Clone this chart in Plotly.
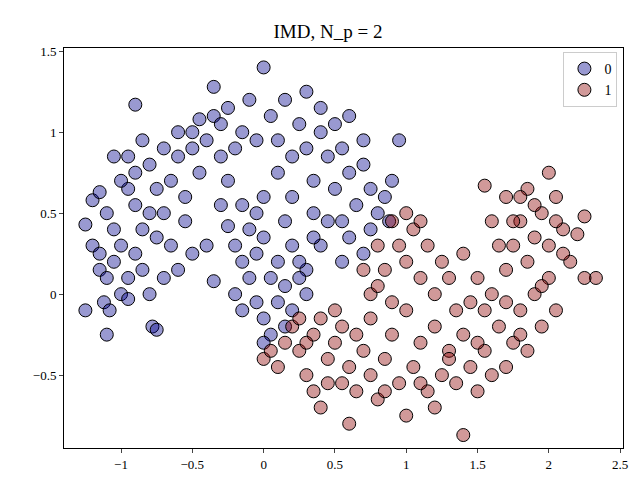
import plotly.graph_objects as go

# class 0 (blue)
x0 = [-1.25,-1.2,-1.15,-1.1,-1.05,-1.2,-1.15,-1.1,-1.05,-1.0,
      -1.25,-1.12,-1.08,-1.0,-0.95,-0.9,-0.85,-0.9,-0.95,-1.0,
      -1.05,-0.95,-0.9,-0.85,-0.8,-0.75,-0.8,-0.75,-0.85,-0.8,
      -0.9,-0.78,-0.75,-1.1,-0.7,-0.65,-0.7,-0.65,-0.7,-0.6,
      -0.6,-0.55,-0.55,-0.5,-0.45,-0.5,-0.45,-0.4,-0.35,-0.3,
      -0.35,-0.3,-0.25,-0.2,-0.25,-0.15,-0.1,-0.05,-0.15,-0.1,
      -0.3,-0.35,-0.25,-0.2,-0.15,-0.1,-0.05,0.0,-0.05,0.0,
      0.0,0.05,0.1,0.15,0.1,0.2,0.25,0.2,0.3,0.3,
      0.35,0.4,0.4,0.45,0.5,0.5,0.55,0.6,0.6,0.65,
      0.7,0.7,0.75,0.8,0.75,0.85,0.9,0.95,0.88,0.7,
      0.6,0.55,0.45,0.4,0.35,0.3,0.2,0.15,0.1,0.05,
      -0.05,0.0,0.05,0.1,0.15,0.2,0.25,0.3,0.15,0.0,
      -0.2,-0.15,0.25,0.35,-0.4,-0.6,-0.95,-1.15,-0.5,0.55]
y0 = [0.43,0.58,0.63,0.5,0.4,0.3,0.15,0.1,0.2,0.3,
      -0.1,-0.05,-0.1,0.0,0.1,0.25,0.4,0.55,0.65,0.7,
      0.85,0.85,0.75,0.95,0.8,0.65,0.5,0.35,0.15,0.0,
      1.17,-0.2,-0.22,-0.25,0.1,0.3,0.5,0.7,0.9,0.85,
      1.0,0.6,0.45,0.9,1.08,0.25,0.75,0.95,1.1,0.85,
      1.28,1.05,1.15,0.9,0.7,1.0,1.2,0.95,0.55,0.4,
      0.55,0.08,0.42,0.3,0.2,0.1,0.25,0.35,0.5,0.6,
      1.4,1.1,0.95,1.2,0.75,0.85,1.05,0.6,1.25,0.9,
      0.7,1.0,1.15,0.85,1.05,0.65,0.9,0.75,1.1,0.55,
      0.95,0.8,0.65,0.5,0.4,0.6,0.7,0.95,0.45,0.25,
      0.35,0.2,0.45,0.3,0.5,0.15,0.3,0.45,0.2,0.1,
      -0.05,-0.15,-0.25,-0.05,0.05,-0.1,0.1,0.0,-0.2,-0.3,
      0.0,-0.1,0.2,0.35,0.3,0.15,-0.03,0.25,1.0,0.45]

# class 1 (red)
x1 = [0.0,0.05,0.1,0.15,0.2,0.25,0.3,0.35,0.4,0.45,
      0.35,0.4,0.45,0.5,0.55,0.6,0.65,0.6,0.7,0.75,
      0.75,0.8,0.85,0.9,0.95,1.0,1.0,1.05,1.1,1.15,
      1.2,1.25,1.3,1.35,1.4,1.4,1.45,1.5,1.55,1.6,
      1.65,1.7,1.75,1.8,1.85,1.9,1.95,2.0,2.05,1.6,
      1.7,1.75,1.8,1.85,1.9,1.95,2.0,2.05,2.1,2.15,
      1.85,1.9,2.0,1.8,1.75,2.1,2.2,2.25,2.33,2.25,
      1.55,1.6,1.65,1.5,1.55,1.4,1.45,1.7,2.05,1.95,
      0.8,0.85,0.9,0.95,1.0,1.05,1.1,1.15,1.2,1.25,
      0.7,0.75,0.8,0.9,1.0,1.1,1.3,1.35,1.2,1.3,
      0.25,0.3,0.5,0.55,0.65,0.85,1.1,1.5,1.8,1.7]
y1 = [-0.4,-0.35,-0.45,-0.3,-0.2,-0.35,-0.5,-0.25,-0.15,-0.4,
      -0.6,-0.7,-0.55,-0.3,-0.2,-0.45,-0.6,-0.8,-0.35,-0.15,
      -0.5,-0.65,-0.4,-0.25,-0.55,-0.75,-0.1,-0.45,-0.3,-0.6,
      -0.7,-0.5,-0.35,-0.55,-0.87,-0.25,-0.45,-0.6,-0.35,-0.5,
      -0.2,-0.45,-0.3,-0.1,-0.35,0.0,-0.2,0.1,-0.1,0.0,
      0.15,0.3,0.45,0.2,0.35,0.5,0.3,0.6,0.4,0.2,
      0.65,0.55,0.75,0.6,0.45,0.25,0.37,0.48,0.1,0.1,
      0.67,0.45,0.3,0.1,-0.1,0.25,-0.05,0.6,0.45,0.05,
      0.3,0.15,0.45,0.3,0.2,0.4,0.1,0.3,0.0,0.2,
      0.15,0.0,0.05,-0.05,0.5,0.45,0.1,-0.1,-0.2,-0.4,
      -0.15,-0.3,-0.1,-0.55,-0.25,-0.6,-0.55,-0.3,-0.25,-0.05]

fig = go.Figure()
fig.add_trace(go.Scatter(x=x0, y=y0, mode="markers", name="0",
                         marker=dict(size=13, color="rgba(0,0,139,0.4)",
                                     line=dict(color="black", width=1))))
fig.add_trace(go.Scatter(x=x1, y=y1, mode="markers", name="1",
                         marker=dict(size=13, color="rgba(139,0,0,0.4)",
                                     line=dict(color="black", width=1))))

ax = dict(showgrid=False, zeroline=False, showline=True, linecolor="black",
          mirror=True, ticks="outside", ticklen=4, tickfont=dict(size=13))
fig.update_layout(
    width=640, height=480, template="none",
    font=dict(family="Liberation Serif", size=14, color="black"),
    title=dict(text="IMD, N_p = 2", x=0.5, y=0.965, font=dict(size=19)),
    margin=dict(l=56, r=25, t=40, b=40),
    xaxis=dict(range=[-1.4, 2.52], dtick=0.5, **ax),
    yaxis=dict(range=[-0.95, 1.52], dtick=0.5, **ax),
    legend=dict(x=0.99, y=0.99, xanchor="right", yanchor="top",
                bordercolor="#ccc", borderwidth=1, bgcolor="white"),
    plot_bgcolor="white",
)
fig.write_html("out.html")
